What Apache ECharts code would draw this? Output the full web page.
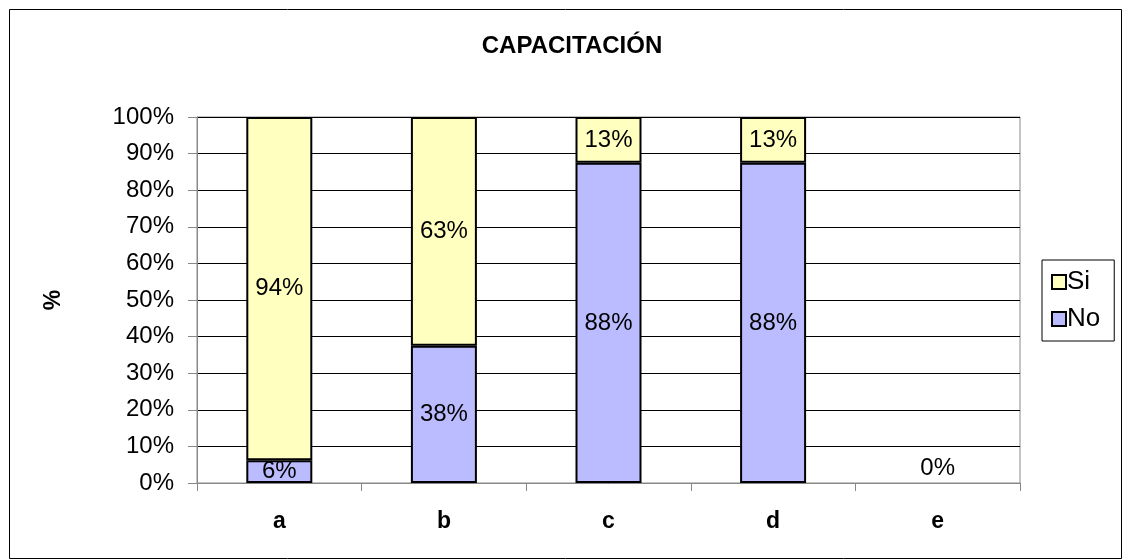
<!DOCTYPE html>
<html>
<head>
<meta charset="utf-8">
<title>Capacitación</title>
<script src="https://cdn.jsdelivr.net/npm/echarts@6/dist/echarts.min.js"></script>
<style>
    html, body { margin: 0; padding: 0; background: #fff; }
    #chart { width: 1125px; height: 560px; }
</style>
</head>
<body>
<div id="chart"></div>
<script>
// datos de la gráfica
var categorias = ['a', 'b', 'c', 'd', 'e'];
var valoresNo = [6.25, 37.5, 87.5, 87.5, 0];
var valoresSi = [93.75, 62.5, 12.5, 12.5, null];
var etiquetasY = [0, 10, 20, 30, 40, 50, 60, 70, 80, 90, 100];

var fuente = 'Arial, "Liberation Sans", sans-serif';

function etiqueta(p) {
    return Math.round(p.value) + '%';
}

// la barra "e" vale 0: sin borde y con la etiqueta encima del eje
var datosNo = valoresNo.map(function (v) {
    if (v === 0) {
        return {
            value: v,
            itemStyle: { borderWidth: 0 },
            label: { position: 'top', distance: 3 }
        };
    }
    return v;
});

var chart = echarts.init(document.getElementById('chart'));
chart.setOption({
    animation: false,
    backgroundColor: '#fff',
    title: {
        text: 'CAPACITACIÓN',
        left: 567,
        textAlign: 'center',
        top: 29,
        textStyle: { fontFamily: fuente, fontSize: 24, fontWeight: 'bold', color: '#000' }
    },
    legend: {
        data: ['Si', 'No'],
        orient: 'vertical',
        left: 1042,
        top: 260,
        itemWidth: 14,
        itemHeight: 14,
        itemGap: 11,
        padding: [9, 14, 9, 9],
        borderColor: '#000',
        borderWidth: 1,
        borderRadius: 0,
        icon: 'rect',
        textStyle: { fontFamily: fuente, fontSize: 26, color: '#000', padding: [0, 0, 0, -4] }
    },
    grid: {
        left: 197,
        right: 105,
        top: 117,
        bottom: 77,
        show: true,
        borderColor: '#888',
        borderWidth: 1
    },
    xAxis: {
        type: 'category',
        data: categorias,
        axisLine: { lineStyle: { color: '#888', width: 1 } },
        axisTick: { show: true, length: 8, lineStyle: { color: '#888' } },
        axisLabel: {
            margin: 27,
            fontFamily: fuente, fontSize: 23, fontWeight: 'bold', color: '#000'
        }
    },
    yAxis: {
        type: 'value',
        min: 0,
        max: 100,
        interval: 10,
        name: '%',
        nameLocation: 'middle',
        nameRotate: 90,
        nameGap: 132,
        nameTextStyle: { fontFamily: fuente, fontSize: 23, fontWeight: 'bold', color: '#000' },
        axisLine: { show: true, lineStyle: { color: '#888', width: 1 } },
        axisTick: { show: true, length: 9, lineStyle: { color: '#888' } },
        axisLabel: {
            margin: 23,
            fontFamily: fuente, fontSize: 24, color: '#000',
            formatter: '{value}%'
        },
        splitLine: { show: true, lineStyle: { color: '#000', width: 1 } }
    },
    series: [
        {
            name: 'No',
            type: 'bar',
            stack: 'total',
            data: datosNo,
            barWidth: 66,
            itemStyle: { color: '#BBBBFF', borderColor: '#000', borderWidth: 2 },
            label: {
                show: true,
                position: 'inside',
                formatter: etiqueta,
                fontFamily: fuente, fontSize: 24, color: '#000'
            }
        },
        {
            name: 'Si',
            type: 'bar',
            stack: 'total',
            data: valoresSi,
            barWidth: 66,
            itemStyle: { color: '#FFFFC0', borderColor: '#000', borderWidth: 2 },
            label: {
                show: true,
                position: 'inside',
                formatter: etiqueta,
                fontFamily: fuente, fontSize: 24, color: '#000'
            }
        }
    ],
    graphic: [
        {
            // borde exterior
            type: 'rect',
            shape: { x: 9.5, y: 9.5, width: 1112, height: 549 },
            style: { fill: 'none', stroke: '#000', lineWidth: 1 },
            silent: true
        }
    ]
});
</script>
</body>
</html>
